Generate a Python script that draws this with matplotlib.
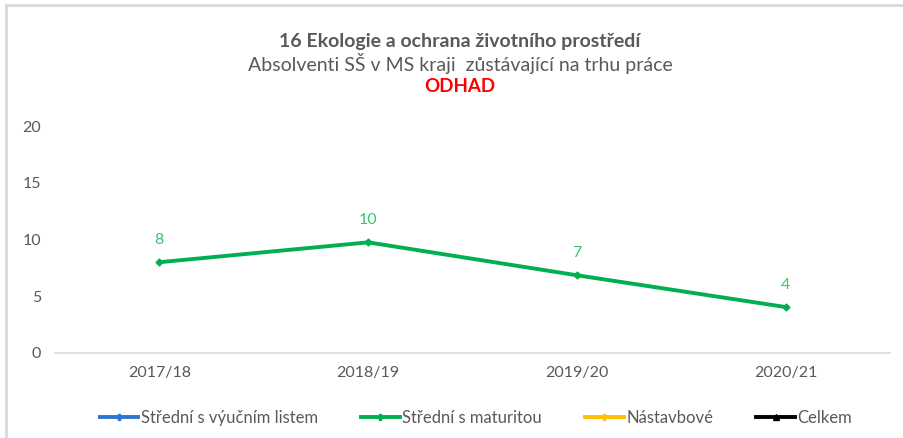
import matplotlib
matplotlib.use("Agg")
import matplotlib.pyplot as plt
from matplotlib.lines import Line2D

plt.rcParams['font.family'] = ['Lato', 'DejaVu Sans']

categories = ["2017/18", "2018/19", "2019/20", "2020/21"]
maturita = [8.0, 9.75, 6.85, 4.05]
maturita_labels = ["8", "10", "7", "4"]
legend_names = ["Střední s výučním listem", "Střední s maturitou", "Nástavbové", "Celkem"]
legend_colors = ["#2E75D0", "#00B050", "#FFC000", "#000000"]
title1 = "16 Ekologie a ochrana životního prostředí"
title2 = "Absolventi SŠ v MS kraji  zůstávající na trhu práce"
title3 = "ODHAD"
yticks = [0, 5, 10, 15, 20]

W, H = 904, 438
fig = plt.figure(figsize=(W / 100, H / 100), dpi=100)

# chart frame (partial, as in screenshot)
fig.add_artist(Line2D([6 / W, 6 / W], [0, 1 - 5 / H], transform=fig.transFigure, color="#d9d9d9", lw=2))
fig.add_artist(Line2D([6 / W, 1], [1 - 5 / H, 1 - 5 / H], transform=fig.transFigure, color="#d9d9d9", lw=2))

ax = fig.add_axes([55 / W, 1 - 353 / H, (890 - 55) / W, (353 - 126) / H])
x = list(range(len(categories)))
ax.plot(x, maturita, color="#00B050", lw=2.8, marker="D", markersize=3.5, zorder=3)
for xi, v, lab in zip(x, maturita, maturita_labels):
    ax.annotate(lab, (xi, v), xytext=(0, 11), textcoords="offset points",
                ha="center", va="bottom", color="#3CC46E", fontsize=11.5)

ax.set_xlim(-0.5, len(categories) - 0.5)
ax.set_ylim(0, 20)
ax.set_yticks(yticks)
ax.set_xticks(x)
ax.set_xticklabels(categories)
for s in ["top", "right", "left"]:
    ax.spines[s].set_visible(False)
ax.spines["bottom"].set_color("#d9d9d9")
ax.spines["bottom"].set_linewidth(1.2)
ax.tick_params(axis="both", length=0, colors="#595959", labelsize=11.5)
ax.tick_params(axis="y", pad=10)
ax.tick_params(axis="x", pad=9)

fig.text(460 / W, 1 - 42 / H, title1, ha="center", va="center", fontsize=14, fontweight="bold", color="#595959")
fig.text(460 / W, 1 - 63 / H, title2, ha="center", va="center", fontsize=14, color="#595959")
fig.text(460 / W, 1 - 87 / H, title3, ha="center", va="center", fontsize=13.5, fontweight="bold", color="#FF0000")

handles = [Line2D([0], [0], color=c, lw=2.8, marker="P" if c != "#000000" else "^", markersize=5) for c in legend_colors]
fig.legend(handles, legend_names, loc="center", bbox_to_anchor=(476 / W, 1 - 418 / H), ncol=4,
           frameon=False, fontsize=12, labelcolor="#595959", handlelength=2.3, handletextpad=0.15,
           columnspacing=2.6)

fig.savefig("out.png", dpi=100, facecolor="white")
